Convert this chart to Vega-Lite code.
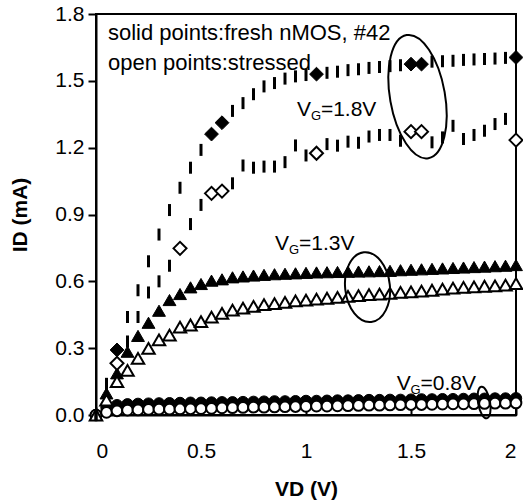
{
  "$schema": "https://vega.github.io/schema/vega-lite/v6.json",
  "width": 420,
  "height": 401,
  "autosize": {"type": "none"},
  "padding": {"left": 96, "top": 14, "right": 7, "bottom": 89},
  "background": "white",
  "config": {
    "view": {"stroke": "black", "strokeWidth": 2},
    "axis": {
      "grid": false,
      "domainColor": "black",
      "domainWidth": 2,
      "tickColor": "black",
      "tickWidth": 2,
      "labelFont": "Liberation Sans",
      "labelFontSize": 21,
      "labelColor": "black",
      "titleFont": "Liberation Sans",
      "titleFontSize": 21,
      "titleFontWeight": "bold",
      "titleColor": "black"
    }
  },
  "datasets": {
    "vg18": [
      {"VD": 0.00, "ID": 0.000, "state": "fresh"},
      {"VD": 0.05, "ID": 0.140, "state": "fresh"},
      {"VD": 0.15, "ID": 0.440, "state": "fresh"},
      {"VD": 0.20, "ID": 0.560, "state": "fresh"},
      {"VD": 0.25, "ID": 0.690, "state": "fresh"},
      {"VD": 0.30, "ID": 0.810, "state": "fresh"},
      {"VD": 0.35, "ID": 0.920, "state": "fresh"},
      {"VD": 0.40, "ID": 1.020, "state": "fresh"},
      {"VD": 0.45, "ID": 1.110, "state": "fresh"},
      {"VD": 0.50, "ID": 1.190, "state": "fresh"},
      {"VD": 0.65, "ID": 1.365, "state": "fresh"},
      {"VD": 0.70, "ID": 1.400, "state": "fresh"},
      {"VD": 0.75, "ID": 1.440, "state": "fresh"},
      {"VD": 0.80, "ID": 1.475, "state": "fresh"},
      {"VD": 0.85, "ID": 1.490, "state": "fresh"},
      {"VD": 0.90, "ID": 1.510, "state": "fresh"},
      {"VD": 0.95, "ID": 1.520, "state": "fresh"},
      {"VD": 1.00, "ID": 1.526, "state": "fresh"},
      {"VD": 1.10, "ID": 1.536, "state": "fresh"},
      {"VD": 1.15, "ID": 1.541, "state": "fresh"},
      {"VD": 1.20, "ID": 1.548, "state": "fresh"},
      {"VD": 1.25, "ID": 1.552, "state": "fresh"},
      {"VD": 1.30, "ID": 1.558, "state": "fresh"},
      {"VD": 1.35, "ID": 1.562, "state": "fresh"},
      {"VD": 1.40, "ID": 1.566, "state": "fresh"},
      {"VD": 1.45, "ID": 1.570, "state": "fresh"},
      {"VD": 1.60, "ID": 1.586, "state": "fresh"},
      {"VD": 1.65, "ID": 1.588, "state": "fresh"},
      {"VD": 1.70, "ID": 1.590, "state": "fresh"},
      {"VD": 1.75, "ID": 1.594, "state": "fresh"},
      {"VD": 1.80, "ID": 1.596, "state": "fresh"},
      {"VD": 1.85, "ID": 1.598, "state": "fresh"},
      {"VD": 1.90, "ID": 1.600, "state": "fresh"},
      {"VD": 1.95, "ID": 1.603, "state": "fresh"},
      {"VD": 0.00, "ID": 0.000, "state": "stressed"},
      {"VD": 0.05, "ID": 0.110, "state": "stressed"},
      {"VD": 0.15, "ID": 0.330, "state": "stressed"},
      {"VD": 0.20, "ID": 0.440, "state": "stressed"},
      {"VD": 0.25, "ID": 0.550, "state": "stressed"},
      {"VD": 0.30, "ID": 0.600, "state": "stressed"},
      {"VD": 0.35, "ID": 0.670, "state": "stressed"},
      {"VD": 0.45, "ID": 0.857, "state": "stressed"},
      {"VD": 0.50, "ID": 0.943, "state": "stressed"},
      {"VD": 0.65, "ID": 1.040, "state": "stressed"},
      {"VD": 0.70, "ID": 1.120, "state": "stressed"},
      {"VD": 0.75, "ID": 1.110, "state": "stressed"},
      {"VD": 0.80, "ID": 1.115, "state": "stressed"},
      {"VD": 0.85, "ID": 1.115, "state": "stressed"},
      {"VD": 0.90, "ID": 1.135, "state": "stressed"},
      {"VD": 0.95, "ID": 1.210, "state": "stressed"},
      {"VD": 1.00, "ID": 1.165, "state": "stressed"},
      {"VD": 1.10, "ID": 1.216, "state": "stressed"},
      {"VD": 1.15, "ID": 1.209, "state": "stressed"},
      {"VD": 1.20, "ID": 1.227, "state": "stressed"},
      {"VD": 1.25, "ID": 1.222, "state": "stressed"},
      {"VD": 1.30, "ID": 1.250, "state": "stressed"},
      {"VD": 1.35, "ID": 1.257, "state": "stressed"},
      {"VD": 1.40, "ID": 1.257, "state": "stressed"},
      {"VD": 1.45, "ID": 1.231, "state": "stressed"},
      {"VD": 1.60, "ID": 1.224, "state": "stressed"},
      {"VD": 1.65, "ID": 1.246, "state": "stressed"},
      {"VD": 1.70, "ID": 1.298, "state": "stressed"},
      {"VD": 1.75, "ID": 1.239, "state": "stressed"},
      {"VD": 1.80, "ID": 1.257, "state": "stressed"},
      {"VD": 1.85, "ID": 1.276, "state": "stressed"},
      {"VD": 1.90, "ID": 1.306, "state": "stressed"},
      {"VD": 1.95, "ID": 1.329, "state": "stressed"}
    ],
    "vg18diamonds": [
      {"VD": 0.10, "ID": 0.292, "state": "fresh"},
      {"VD": 0.55, "ID": 1.261, "state": "fresh"},
      {"VD": 0.60, "ID": 1.312, "state": "fresh"},
      {"VD": 1.05, "ID": 1.530, "state": "fresh"},
      {"VD": 1.50, "ID": 1.575, "state": "fresh"},
      {"VD": 1.55, "ID": 1.575, "state": "fresh"},
      {"VD": 2.00, "ID": 1.605, "state": "fresh"},
      {"VD": 0.10, "ID": 0.232, "state": "stressed"},
      {"VD": 0.40, "ID": 0.748, "state": "stressed"},
      {"VD": 0.55, "ID": 0.995, "state": "stressed"},
      {"VD": 0.60, "ID": 1.005, "state": "stressed"},
      {"VD": 1.05, "ID": 1.175, "state": "stressed"},
      {"VD": 1.50, "ID": 1.272, "state": "stressed"},
      {"VD": 1.55, "ID": 1.272, "state": "stressed"},
      {"VD": 2.00, "ID": 1.234, "state": "stressed"}
    ],
    "vg13": [
      {"VD": 0.00, "ID": 0.000, "state": "fresh"},
      {"VD": 0.05, "ID": 0.097, "state": "fresh"},
      {"VD": 0.10, "ID": 0.187, "state": "fresh"},
      {"VD": 0.15, "ID": 0.284, "state": "fresh"},
      {"VD": 0.20, "ID": 0.355, "state": "fresh"},
      {"VD": 0.25, "ID": 0.414, "state": "fresh"},
      {"VD": 0.30, "ID": 0.468, "state": "fresh"},
      {"VD": 0.35, "ID": 0.516, "state": "fresh"},
      {"VD": 0.40, "ID": 0.543, "state": "fresh"},
      {"VD": 0.45, "ID": 0.573, "state": "fresh"},
      {"VD": 0.50, "ID": 0.588, "state": "fresh"},
      {"VD": 0.55, "ID": 0.603, "state": "fresh"},
      {"VD": 0.60, "ID": 0.609, "state": "fresh"},
      {"VD": 0.65, "ID": 0.618, "state": "fresh"},
      {"VD": 0.70, "ID": 0.622, "state": "fresh"},
      {"VD": 0.75, "ID": 0.626, "state": "fresh"},
      {"VD": 0.80, "ID": 0.629, "state": "fresh"},
      {"VD": 0.85, "ID": 0.632, "state": "fresh"},
      {"VD": 0.90, "ID": 0.634, "state": "fresh"},
      {"VD": 0.95, "ID": 0.636, "state": "fresh"},
      {"VD": 1.00, "ID": 0.638, "state": "fresh"},
      {"VD": 1.05, "ID": 0.640, "state": "fresh"},
      {"VD": 1.10, "ID": 0.641, "state": "fresh"},
      {"VD": 1.15, "ID": 0.642, "state": "fresh"},
      {"VD": 1.20, "ID": 0.643, "state": "fresh"},
      {"VD": 1.25, "ID": 0.644, "state": "fresh"},
      {"VD": 1.30, "ID": 0.645, "state": "fresh"},
      {"VD": 1.35, "ID": 0.646, "state": "fresh"},
      {"VD": 1.40, "ID": 0.647, "state": "fresh"},
      {"VD": 1.45, "ID": 0.650, "state": "fresh"},
      {"VD": 1.50, "ID": 0.652, "state": "fresh"},
      {"VD": 1.55, "ID": 0.654, "state": "fresh"},
      {"VD": 1.60, "ID": 0.656, "state": "fresh"},
      {"VD": 1.65, "ID": 0.658, "state": "fresh"},
      {"VD": 1.70, "ID": 0.660, "state": "fresh"},
      {"VD": 1.75, "ID": 0.662, "state": "fresh"},
      {"VD": 1.80, "ID": 0.664, "state": "fresh"},
      {"VD": 1.85, "ID": 0.666, "state": "fresh"},
      {"VD": 1.90, "ID": 0.668, "state": "fresh"},
      {"VD": 1.95, "ID": 0.670, "state": "fresh"},
      {"VD": 2.00, "ID": 0.673, "state": "fresh"},
      {"VD": 0.00, "ID": 0.000, "state": "stressed"},
      {"VD": 0.05, "ID": 0.067, "state": "stressed"},
      {"VD": 0.10, "ID": 0.150, "state": "stressed"},
      {"VD": 0.15, "ID": 0.200, "state": "stressed"},
      {"VD": 0.20, "ID": 0.254, "state": "stressed"},
      {"VD": 0.25, "ID": 0.299, "state": "stressed"},
      {"VD": 0.30, "ID": 0.337, "state": "stressed"},
      {"VD": 0.35, "ID": 0.359, "state": "stressed"},
      {"VD": 0.40, "ID": 0.394, "state": "stressed"},
      {"VD": 0.45, "ID": 0.404, "state": "stressed"},
      {"VD": 0.50, "ID": 0.419, "state": "stressed"},
      {"VD": 0.55, "ID": 0.439, "state": "stressed"},
      {"VD": 0.60, "ID": 0.456, "state": "stressed"},
      {"VD": 0.65, "ID": 0.471, "state": "stressed"},
      {"VD": 0.70, "ID": 0.480, "state": "stressed"},
      {"VD": 0.75, "ID": 0.488, "state": "stressed"},
      {"VD": 0.80, "ID": 0.495, "state": "stressed"},
      {"VD": 0.85, "ID": 0.500, "state": "stressed"},
      {"VD": 0.90, "ID": 0.506, "state": "stressed"},
      {"VD": 0.95, "ID": 0.512, "state": "stressed"},
      {"VD": 1.00, "ID": 0.516, "state": "stressed"},
      {"VD": 1.05, "ID": 0.520, "state": "stressed"},
      {"VD": 1.10, "ID": 0.524, "state": "stressed"},
      {"VD": 1.15, "ID": 0.528, "state": "stressed"},
      {"VD": 1.20, "ID": 0.532, "state": "stressed"},
      {"VD": 1.25, "ID": 0.536, "state": "stressed"},
      {"VD": 1.30, "ID": 0.540, "state": "stressed"},
      {"VD": 1.35, "ID": 0.543, "state": "stressed"},
      {"VD": 1.40, "ID": 0.546, "state": "stressed"},
      {"VD": 1.45, "ID": 0.550, "state": "stressed"},
      {"VD": 1.50, "ID": 0.553, "state": "stressed"},
      {"VD": 1.55, "ID": 0.556, "state": "stressed"},
      {"VD": 1.60, "ID": 0.560, "state": "stressed"},
      {"VD": 1.65, "ID": 0.565, "state": "stressed"},
      {"VD": 1.70, "ID": 0.570, "state": "stressed"},
      {"VD": 1.75, "ID": 0.573, "state": "stressed"},
      {"VD": 1.80, "ID": 0.575, "state": "stressed"},
      {"VD": 1.85, "ID": 0.578, "state": "stressed"},
      {"VD": 1.90, "ID": 0.580, "state": "stressed"},
      {"VD": 1.95, "ID": 0.583, "state": "stressed"},
      {"VD": 2.00, "ID": 0.590, "state": "stressed"}
    ],
    "vg08": [
      {"VD": 0.00, "ID": 0.000, "state": "fresh"},
      {"VD": 0.05, "ID": 0.034, "state": "fresh"},
      {"VD": 0.10, "ID": 0.044, "state": "fresh"},
      {"VD": 0.15, "ID": 0.048, "state": "fresh"},
      {"VD": 0.20, "ID": 0.050, "state": "fresh"},
      {"VD": 0.25, "ID": 0.051, "state": "fresh"},
      {"VD": 0.30, "ID": 0.052, "state": "fresh"},
      {"VD": 0.35, "ID": 0.053, "state": "fresh"},
      {"VD": 0.40, "ID": 0.054, "state": "fresh"},
      {"VD": 0.45, "ID": 0.055, "state": "fresh"},
      {"VD": 0.50, "ID": 0.055, "state": "fresh"},
      {"VD": 0.55, "ID": 0.056, "state": "fresh"},
      {"VD": 0.60, "ID": 0.057, "state": "fresh"},
      {"VD": 0.65, "ID": 0.057, "state": "fresh"},
      {"VD": 0.70, "ID": 0.058, "state": "fresh"},
      {"VD": 0.75, "ID": 0.059, "state": "fresh"},
      {"VD": 0.80, "ID": 0.060, "state": "fresh"},
      {"VD": 0.85, "ID": 0.061, "state": "fresh"},
      {"VD": 0.90, "ID": 0.061, "state": "fresh"},
      {"VD": 0.95, "ID": 0.062, "state": "fresh"},
      {"VD": 1.00, "ID": 0.063, "state": "fresh"},
      {"VD": 1.05, "ID": 0.063, "state": "fresh"},
      {"VD": 1.10, "ID": 0.064, "state": "fresh"},
      {"VD": 1.15, "ID": 0.065, "state": "fresh"},
      {"VD": 1.20, "ID": 0.065, "state": "fresh"},
      {"VD": 1.25, "ID": 0.066, "state": "fresh"},
      {"VD": 1.30, "ID": 0.067, "state": "fresh"},
      {"VD": 1.35, "ID": 0.067, "state": "fresh"},
      {"VD": 1.40, "ID": 0.068, "state": "fresh"},
      {"VD": 1.45, "ID": 0.068, "state": "fresh"},
      {"VD": 1.50, "ID": 0.069, "state": "fresh"},
      {"VD": 1.55, "ID": 0.070, "state": "fresh"},
      {"VD": 1.60, "ID": 0.070, "state": "fresh"},
      {"VD": 1.65, "ID": 0.071, "state": "fresh"},
      {"VD": 1.70, "ID": 0.071, "state": "fresh"},
      {"VD": 1.75, "ID": 0.072, "state": "fresh"},
      {"VD": 1.80, "ID": 0.073, "state": "fresh"},
      {"VD": 1.85, "ID": 0.073, "state": "fresh"},
      {"VD": 1.90, "ID": 0.074, "state": "fresh"},
      {"VD": 1.95, "ID": 0.074, "state": "fresh"},
      {"VD": 2.00, "ID": 0.075, "state": "fresh"},
      {"VD": 0.00, "ID": 0.000, "state": "stressed"},
      {"VD": 0.05, "ID": 0.012, "state": "stressed"},
      {"VD": 0.10, "ID": 0.019, "state": "stressed"},
      {"VD": 0.15, "ID": 0.022, "state": "stressed"},
      {"VD": 0.20, "ID": 0.023, "state": "stressed"},
      {"VD": 0.25, "ID": 0.025, "state": "stressed"},
      {"VD": 0.30, "ID": 0.026, "state": "stressed"},
      {"VD": 0.35, "ID": 0.026, "state": "stressed"},
      {"VD": 0.40, "ID": 0.027, "state": "stressed"},
      {"VD": 0.45, "ID": 0.028, "state": "stressed"},
      {"VD": 0.50, "ID": 0.029, "state": "stressed"},
      {"VD": 0.55, "ID": 0.030, "state": "stressed"},
      {"VD": 0.60, "ID": 0.032, "state": "stressed"},
      {"VD": 0.65, "ID": 0.033, "state": "stressed"},
      {"VD": 0.70, "ID": 0.034, "state": "stressed"},
      {"VD": 0.75, "ID": 0.035, "state": "stressed"},
      {"VD": 0.80, "ID": 0.035, "state": "stressed"},
      {"VD": 0.85, "ID": 0.036, "state": "stressed"},
      {"VD": 0.90, "ID": 0.037, "state": "stressed"},
      {"VD": 0.95, "ID": 0.038, "state": "stressed"},
      {"VD": 1.00, "ID": 0.039, "state": "stressed"},
      {"VD": 1.05, "ID": 0.040, "state": "stressed"},
      {"VD": 1.10, "ID": 0.040, "state": "stressed"},
      {"VD": 1.15, "ID": 0.041, "state": "stressed"},
      {"VD": 1.20, "ID": 0.042, "state": "stressed"},
      {"VD": 1.25, "ID": 0.043, "state": "stressed"},
      {"VD": 1.30, "ID": 0.044, "state": "stressed"},
      {"VD": 1.35, "ID": 0.044, "state": "stressed"},
      {"VD": 1.40, "ID": 0.045, "state": "stressed"},
      {"VD": 1.45, "ID": 0.046, "state": "stressed"},
      {"VD": 1.50, "ID": 0.047, "state": "stressed"},
      {"VD": 1.55, "ID": 0.047, "state": "stressed"},
      {"VD": 1.60, "ID": 0.048, "state": "stressed"},
      {"VD": 1.65, "ID": 0.049, "state": "stressed"},
      {"VD": 1.70, "ID": 0.050, "state": "stressed"},
      {"VD": 1.75, "ID": 0.050, "state": "stressed"},
      {"VD": 1.80, "ID": 0.051, "state": "stressed"},
      {"VD": 1.85, "ID": 0.052, "state": "stressed"},
      {"VD": 1.90, "ID": 0.053, "state": "stressed"},
      {"VD": 1.95, "ID": 0.053, "state": "stressed"},
      {"VD": 2.00, "ID": 0.054, "state": "stressed"}
    ],
    "notes": [
      {"VD": 0.057, "ID": 1.683, "label": "solid points:fresh nMOS, #42"},
      {"VD": 0.057, "ID": 1.548, "label": "open points:stressed"}
    ],
    "vgMain": [
      {"VD": 0.957, "ID": 1.342, "label": "V"},
      {"VD": 1.071, "ID": 1.342, "label": "=1.8V"},
      {"VD": 0.852, "ID": 0.741, "label": "V"},
      {"VD": 0.967, "ID": 0.741, "label": "=1.3V"},
      {"VD": 1.432, "ID": 0.112, "label": "V"},
      {"VD": 1.545, "ID": 0.112, "label": "=0.8V"}
    ],
    "vgSub": [
      {"VD": 1.024, "ID": 1.324, "label": "G"},
      {"VD": 0.919, "ID": 0.724, "label": "G"},
      {"VD": 1.498, "ID": 0.095, "label": "G"}
    ]
  },
  "encoding": {
    "x": {
      "field": "VD", "type": "quantitative",
      "scale": {"domain": [0, 2], "nice": false, "zero": false},
      "axis": {"values": [0, 0.5, 1, 1.5, 2], "format": "~g", "tickSize": -8, "labelPadding": 33, "title": "VD (V)", "titlePadding": 17}
    },
    "y": {
      "field": "ID", "type": "quantitative",
      "scale": {"domain": [0, 1.8], "nice": false, "zero": false},
      "axis": {"values": [0, 0.3, 0.6, 0.9, 1.2, 1.5, 1.8], "format": ".1f", "tickSize": 8, "labelPadding": 4, "title": "ID (mA)", "titlePadding": 24}
    }
  },
  "layer": [
    {
      "data": {"name": "vg08"},
      "transform": [{"filter": "datum.state === 'fresh'"}],
      "mark": {"type": "point", "shape": "circle", "size": 130, "filled": true, "fill": "black", "stroke": "black", "strokeWidth": 1, "opacity": 1}
    },
    {
      "data": {"name": "vg08"},
      "transform": [{"filter": "datum.state === 'stressed'"}],
      "mark": {"type": "point", "shape": "circle", "size": 115, "filled": true, "fill": "white", "stroke": "black", "strokeWidth": 2, "opacity": 1}
    },
    {
      "data": {"name": "vg13"},
      "transform": [{"filter": "datum.state === 'fresh'"}],
      "mark": {"type": "point", "shape": "triangle-up", "size": 165, "filled": true, "fill": "black", "stroke": "black", "strokeWidth": 1, "opacity": 1}
    },
    {
      "data": {"name": "vg13"},
      "transform": [{"filter": "datum.state === 'stressed'"}],
      "mark": {"type": "point", "shape": "triangle-up", "size": 155, "filled": true, "fill": "white", "stroke": "black", "strokeWidth": 2, "opacity": 1}
    },
    {
      "data": {"name": "vg18"},
      "mark": {"type": "point", "shape": "M0,-1L0,1", "size": 144, "filled": false, "stroke": "black", "strokeWidth": 3, "strokeCap": "butt", "opacity": 1}
    },
    {
      "data": {"name": "vg18diamonds"},
      "transform": [{"filter": "datum.state === 'fresh'"}],
      "mark": {"type": "point", "shape": "diamond", "size": 190, "filled": true, "fill": "black", "stroke": "black", "strokeWidth": 1, "opacity": 1}
    },
    {
      "data": {"name": "vg18diamonds"},
      "transform": [{"filter": "datum.state === 'stressed'"}],
      "mark": {"type": "point", "shape": "diamond", "size": 170, "filled": true, "fill": "white", "stroke": "black", "strokeWidth": 2, "opacity": 1}
    },
    {
      "data": {"values": [{"VD": 1.531, "ID": 1.429}]},
      "mark": {"type": "point", "shape": "M0,-1A0.44,1,0,1,1,0,1A0.44,1,0,1,1,0,-1Z", "size": 15625, "angle": 350, "filled": false, "stroke": "black", "strokeWidth": 2, "opacity": 1}
    },
    {
      "data": {"values": [{"VD": 1.293, "ID": 0.574}]},
      "mark": {"type": "point", "shape": "M0,-1A0.64,1,0,1,1,0,1A0.64,1,0,1,1,0,-1Z", "size": 4900, "angle": 354, "filled": false, "stroke": "black", "strokeWidth": 2, "opacity": 1}
    },
    {
      "data": {"values": [{"VD": 1.848, "ID": 0.056}]},
      "mark": {"type": "point", "shape": "M0,-1A0.375,1,0,1,1,0,1A0.375,1,0,1,1,0,-1Z", "size": 1024, "angle": 350, "filled": false, "stroke": "black", "strokeWidth": 2, "opacity": 1}
    },
    {
      "data": {"name": "notes"},
      "mark": {"type": "text", "align": "left", "baseline": "alphabetic", "font": "Liberation Sans", "fontSize": 22, "fill": "black"},
      "encoding": {"text": {"field": "label"}}
    },
    {
      "data": {"name": "vgMain"},
      "mark": {"type": "text", "align": "left", "baseline": "alphabetic", "font": "Liberation Sans", "fontSize": 21, "fill": "black"},
      "encoding": {"text": {"field": "label"}}
    },
    {
      "data": {"name": "vgSub"},
      "mark": {"type": "text", "align": "left", "baseline": "alphabetic", "font": "Liberation Sans", "fontSize": 13, "fill": "black"},
      "encoding": {"text": {"field": "label"}}
    }
  ]
}
